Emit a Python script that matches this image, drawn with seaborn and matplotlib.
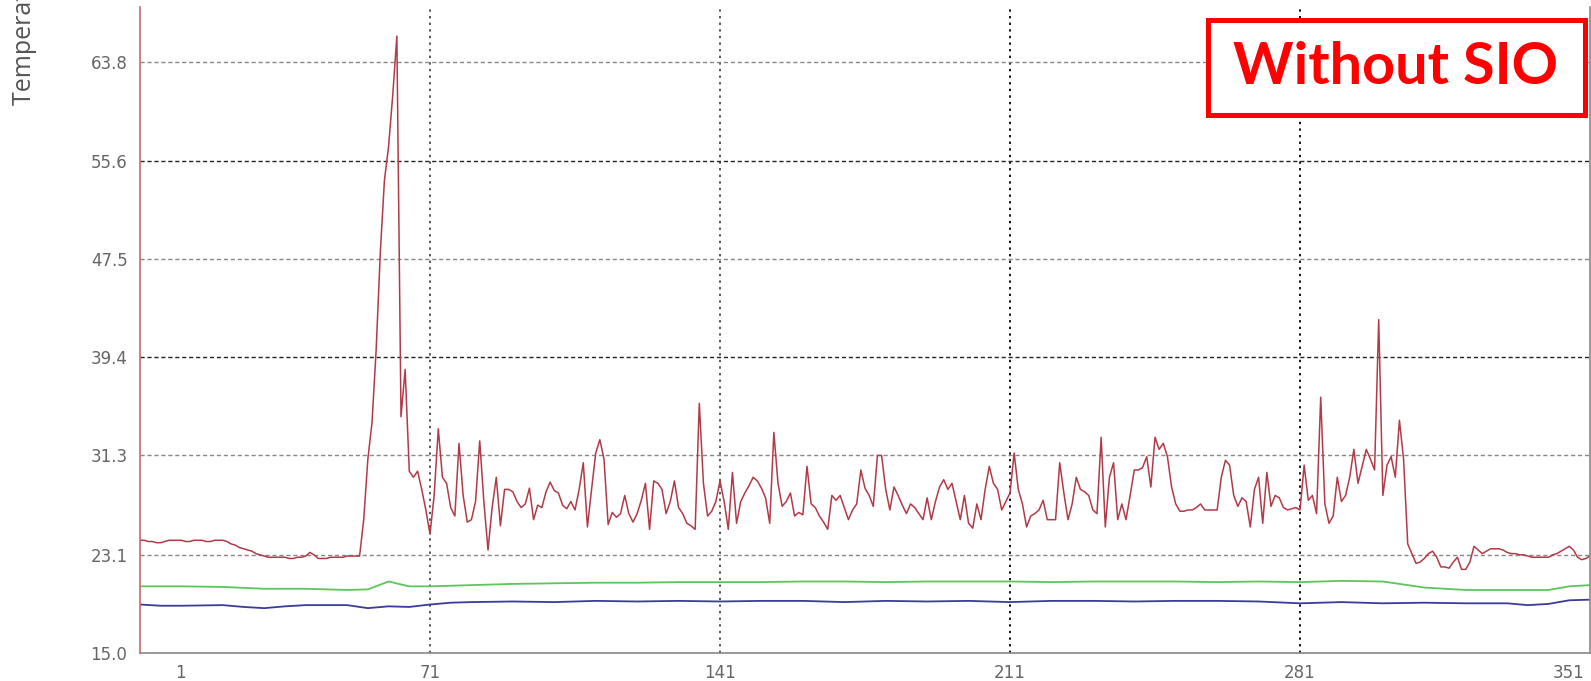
import numpy as np
import pandas as pd
import matplotlib
matplotlib.use('Agg')
import matplotlib.pyplot as plt
import matplotlib.transforms as mtransforms
from matplotlib.patches import Rectangle
import seaborn as sns

# red trace, one value per sample (1..351)
red_temp = [
    # 1-32: flat start then slow decline
    24.3, 24.3, 24.2, 24.2, 24.1, 24.1, 24.2, 24.3, 24.3, 24.3, 24.3, 24.2, 24.2, 24.3, 24.3, 24.3,
    24.2, 24.2, 24.3, 24.3, 24.3, 24.2, 24.0, 23.9, 23.7, 23.6, 23.5, 23.4, 23.2, 23.1, 23.0, 22.9,
    # 33-54
    22.9, 22.9, 22.9, 22.9, 22.8, 22.8, 22.9, 22.9, 23.0, 23.3, 23.1, 22.8, 22.8, 22.8, 22.9, 22.9,
    22.9, 22.9, 23.0, 23.0, 23.0, 23.0,
    # 55-65: spike
    26.0, 31.0, 34.0, 40.0, 48.0, 54.0, 56.8, 61.0, 65.9, 34.5, 38.4,
    # 66-87
    30.0, 29.5, 30.0, 28.5, 26.8, 24.8, 28.0, 33.5, 29.5, 29.0, 27.0, 26.3, 32.3, 28.0, 25.8, 26.0,
    27.5, 32.5, 27.5, 23.5, 27.0, 29.5,
    # 88-177
    25.5, 28.5, 28.5, 28.3, 27.5, 27.0, 27.3, 28.6, 26.0, 27.2,
    27.0, 28.3, 29.1, 28.4, 28.2, 27.2, 26.9, 27.5, 26.8, 28.5,
    30.7, 25.4, 28.5, 31.5, 32.6, 31.0, 25.6, 26.6, 26.2, 26.5,
    28.0, 26.5, 25.8, 26.5, 27.6, 29.0, 25.2, 29.2, 29.0, 28.5,
    26.5, 27.5, 29.2, 27.0, 26.5, 25.7, 25.5, 25.2, 35.6, 29.0,
    26.3, 26.7, 27.5, 29.2, 27.5, 25.2, 29.9, 25.7, 27.5, 28.2,
    28.8, 29.5, 29.2, 28.6, 27.8, 25.7, 33.2, 29.0, 27.1, 27.5,
    28.2, 26.3, 26.6, 26.4, 30.4, 27.3, 27.0, 26.3, 25.8, 25.2,
    28.0, 27.6, 28.0, 27.0, 26.0, 26.8, 27.3, 30.1, 28.6, 28.0,
    # 178-263
    27.1, 31.3, 31.3, 28.5, 26.8, 28.7, 28.0, 27.2, 26.5, 27.3,
    27.0, 26.5, 26.0, 27.8, 26.0, 27.5, 28.7, 29.3, 28.5, 29.0,
    27.5, 26.0, 28.0, 25.7, 25.3, 27.3, 26.0, 28.5, 30.4, 29.0,
    28.5, 26.8, 27.5, 28.2, 31.5, 28.5, 27.3, 25.4, 26.3, 26.5,
    26.8, 27.6, 26.0, 26.0, 26.0, 30.7, 28.2, 26.0, 27.3, 29.5,
    28.5, 28.3, 28.0, 26.8, 26.5, 32.8, 25.4, 29.5, 30.7, 26.0,
    27.3, 26.0, 28.0, 30.1, 30.1, 30.3, 31.2, 28.7, 32.8, 31.8,
    32.3, 31.2, 28.7, 27.3, 26.7, 26.7, 26.8, 26.8, 27.0, 27.3,
    26.8, 26.8, 26.8, 26.8, 29.5, 30.9,
    # 264-351
    30.5, 28.0, 27.1, 27.8, 27.5, 25.4, 28.5, 29.5, 25.7, 29.9,
    27.1, 28.0, 27.8, 27.0, 26.8, 26.9, 27.0, 26.8, 30.5, 27.6,
    28.0, 26.5, 36.1, 27.3, 25.7, 26.3, 29.5, 27.5, 28.0, 29.5,
    31.8, 29.0, 30.4, 31.8, 31.0, 30.1, 42.5, 28.0, 30.5, 31.2,
    29.5, 34.2, 31.0, 24.0, 23.2, 22.4, 22.5, 22.8, 23.2, 23.4,
    22.9, 22.1, 22.1, 22.0, 22.5, 22.9, 21.9, 21.9, 22.5, 23.8,
    23.5, 23.2, 23.4, 23.6, 23.6, 23.6, 23.5, 23.3, 23.2, 23.2,
    23.1, 23.1, 23.0, 22.9, 22.9, 22.9, 22.9, 22.9, 23.1, 23.2,
    23.4, 23.6, 23.8, 23.5, 22.9, 22.7, 22.8, 23.0,
]
red_x = list(range(1, len(red_temp) + 1))

green_x = [1, 11, 21, 31, 41, 51, 56, 61, 66, 71, 81, 91, 101, 111, 121, 131, 141, 151, 161,
           171, 181, 191, 201, 211, 221, 231, 241, 251, 261, 271, 281, 291, 301, 311, 321,
           331, 341, 346, 351]
green_temp = [20.5, 20.5, 20.45, 20.3, 20.3, 20.2, 20.25, 20.9, 20.5, 20.5, 20.6, 20.7, 20.75,
              20.8, 20.8, 20.85, 20.85, 20.85, 20.9, 20.9, 20.85, 20.9, 20.9, 20.9, 20.85, 20.9,
              20.9, 20.9, 20.85, 20.9, 20.85, 20.95, 20.9, 20.4, 20.2, 20.2, 20.2, 20.5, 20.6]

blue_x = [1, 6, 11, 21, 26, 31, 36, 41, 46, 51, 56, 61, 66, 71, 76, 81, 91, 101, 111, 121, 131,
          141, 151, 161, 171, 181, 191, 201, 211, 221, 231, 241, 251, 261, 271, 281, 291, 301,
          311, 321, 331, 336, 341, 346, 351]
blue_temp = [19.0, 18.9, 18.9, 18.95, 18.8, 18.7, 18.85, 18.95, 18.95, 18.95, 18.7, 18.85, 18.8,
             19.0, 19.15, 19.2, 19.25, 19.2, 19.3, 19.25, 19.3, 19.25, 19.3, 19.3, 19.2, 19.3,
             19.25, 19.3, 19.2, 19.3, 19.3, 19.25, 19.3, 19.3, 19.25, 19.1, 19.2, 19.1, 19.15,
             19.1, 19.1, 18.95, 19.05, 19.35, 19.4]

y_ticks = [15.0, 23.1, 31.3, 39.4, 47.5, 55.6, 63.8]
x_ticks = [1, 71, 141, 211, 281, 351]

sns.set_style('white')
plt.rcParams['font.family'] = ['DejaVu Sans']

W, H = 1591, 681
fig = plt.figure(figsize=(W / 100, H / 100), dpi=100)
ax = fig.add_axes([140 / W, 28 / H, 1450 / W, 646 / H])

sns.lineplot(x=green_x, y=green_temp, ax=ax, color='#5cc65c', linewidth=1.3)
sns.lineplot(x=blue_x, y=blue_temp, ax=ax, color='#3b3b9c', linewidth=1.3)
sns.lineplot(x=red_x, y=red_temp, ax=ax, color='#b23a48', linewidth=1.1)

ax.set_xlim(1, 351)
ax.set_ylim(15.0, 68.3)
ax.set_xticks(x_ticks)
ax.set_xticklabels([str(t) for t in x_ticks])
ax.set_yticks(y_ticks)
ax.set_yticklabels([f'{t:.1f}' for t in y_ticks])
ax.tick_params(axis='both', length=0, labelsize=12, labelcolor='#666666')
ax.tick_params(axis='y', pad=9)
ax.tick_params(axis='x', pad=8)
ax.set_xlabel('')
ax.set_ylabel('')

# grid: dashed horizontals, dotted verticals, some darker
ax.grid(True, axis='y', linestyle=(0, (3, 2)), linewidth=1.0, color='#888888')
ax.grid(True, axis='x', linestyle=(0, (1.2, 2.2)), linewidth=1.4, color='#555555')
for i, gl in enumerate(ax.yaxis.get_gridlines()):
    if y_ticks[i] in (55.6, 39.4):
        gl.set_color('#222222')
    if y_ticks[i] == 15.0:
        gl.set_visible(False)
for i, gl in enumerate(ax.xaxis.get_gridlines()):
    if x_ticks[i] in (211, 281):
        gl.set_color('#111111')
    if x_ticks[i] in (1, 351):
        gl.set_visible(False)

ax.spines['top'].set_visible(False)
ax.spines['left'].set_color('#c86a6a')
ax.spines['bottom'].set_color('#888888')
ax.spines['right'].set_color('#888888')
for s in ('left', 'bottom', 'right'):
    ax.spines[s].set_linewidth(1.2)

# shift end tick labels inward like the original
labels = ax.get_xticklabels()
labels[0].set_transform(labels[0].get_transform() +
                        mtransforms.ScaledTranslation(40 / 100, 0, fig.dpi_scale_trans))
labels[-1].set_transform(labels[-1].get_transform() +
                         mtransforms.ScaledTranslation(-21 / 100, 0, fig.dpi_scale_trans))

# axis title, cut off at the top edge as in the original
fig.text(25 / W, 1 - 105 / H, 'Temperature (\u00b0C)', rotation=90, ha='center', va='bottom',
         fontsize=18, color='#555555', family=['Open Sans', 'DejaVu Sans'])

# "Without SIO" box
box = Rectangle((1207.5 / W, 1 - 114.5 / H), 377 / W, 95 / H, transform=fig.transFigure,
                facecolor='white', edgecolor='#ff0000', linewidth=3.6, zorder=10,
                clip_on=False)
ax.add_patch(box)
ax.text(1396 / W, 1 - 67 / H, 'Without SIO', transform=fig.transFigure, ha='center',
        va='center', fontsize=41.5, fontweight='bold', color='#ff0000',
        family=['Lato', 'DejaVu Sans'], zorder=11)

fig.savefig('out.png', dpi=100)
